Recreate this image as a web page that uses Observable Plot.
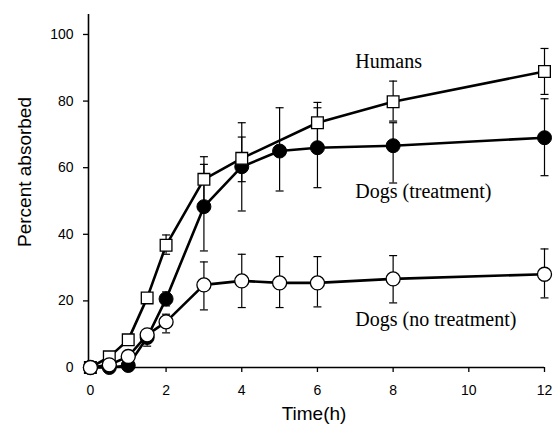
<!DOCTYPE html>
<html>
<head>
<meta charset="utf-8">
<script src="https://cdn.jsdelivr.net/npm/d3@7"></script>
<script src="https://cdn.jsdelivr.net/npm/@observablehq/plot@0.6"></script>
<style>
  html, body { margin: 0; padding: 0; background: #fff; }
</style>
</head>
<body>
<div id="chart"></div>
<script>
// ---- data ----
const xTicks = [0, 2, 4, 6, 8, 10, 12];
const yTicks = [0, 20, 40, 60, 80, 100];

const humanTimes = [0, 0.5, 1, 1.5, 2, 3, 4, 6, 8, 12];
const humanPct   = [0, 3.2, 8.3, 20.9, 36.7, 56.5, 62.8, 73.5, 79.8, 88.9];
const humanLo    = [null, null, null, 19.5, 34, 49.5, 55.8, 67.5, 74, 82];
const humanHi    = [null, null, null, 22, 39.8, 63.3, 69.2, 79.6, 86, 95.8];

const dogTrtTimes = [0, 0.5, 1, 1.5, 2, 3, 4, 5, 6, 8, 12];
const dogTrtPct   = [0, 0, 0.6, 9, 20.6, 48.3, 60.3, 65, 66, 66.6, 69];
const dogTrtLo    = [null, null, null, null, 18.5, 35, 47, 53, 54, 55.4, 57.6];
const dogTrtHi    = [null, null, null, null, 22.7, 61, 73.5, 78, 78, 73.5, 80.7];

const dogNoTimes = [0, 0.5, 1, 1.5, 2, 3, 4, 5, 6, 8, 12];
const dogNoPct   = [0, 0.8, 3.3, 9.8, 13.7, 24.8, 26, 25.4, 25.4, 26.6, 28];
const dogNoLo    = [null, null, null, 6.4, 10.4, 17.3, 18, 18, 18.2, 19.4, 20.9];
const dogNoHi    = [null, null, null, 11, 16, 31.7, 34, 33.3, 33.3, 33.6, 35.6];

const seriesLabels = ["Humans", "Dogs (treatment)", "Dogs (no treatment)"];
const labelX = [7, 7, 7];
const labelY = [89.8, 51, 12.5];

// ---- build tables ----
const mk = (times, pct, lo, hi) => times.map((t, i) => ({t, v: pct[i], lo: lo[i], hi: hi[i]}));
const humans = mk(humanTimes, humanPct, humanLo, humanHi);
const dogTrt = mk(dogTrtTimes, dogTrtPct, dogTrtLo, dogTrtHi);
const dogNo  = mk(dogNoTimes, dogNoPct, dogNoLo, dogNoHi);
const allErr = [...humans, ...dogTrt, ...dogNo].filter(d => d.lo != null);
const labels = seriesLabels.map((s, i) => ({s, x: labelX[i], y: labelY[i]}));

// horizontal cap symbol for error bars
const capSymbol = {
  draw(ctx, size) {
    const r = Math.sqrt(size / Math.PI);
    ctx.moveTo(-r, 0);
    ctx.lineTo(r, 0);
  }
};

const chart = Plot.plot({
  width: 553,
  height: 432,
  marginLeft: 88,
  marginRight: 9,
  marginTop: 14,
  marginBottom: 65,
  style: {fontFamily: "'Liberation Sans', Arial, sans-serif", fontSize: "14px", color: "black", background: "white"},
  x: {domain: [-0.05, 12]},
  y: {domain: [0, 106]},
  marks: [
    Plot.axisX({ticks: xTicks, tickSize: 5, tickPadding: 13, label: null, fontSize: 14, strokeWidth: 1.3}),
    Plot.axisY({ticks: yTicks, tickSize: 5, tickPadding: 10, label: null, fontSize: 14, strokeWidth: 1.3}),
    Plot.ruleY([0], {stroke: "black", strokeWidth: 1.6}),
    Plot.ruleX([-0.05], {stroke: "black", strokeWidth: 1.6}),
    // error bars
    Plot.ruleX(allErr, {x: "t", y1: "lo", y2: "hi", stroke: "black", strokeWidth: 1.2}),
    Plot.dot(allErr, {x: "t", y: "lo", symbol: capSymbol, r: 4, stroke: "black", strokeWidth: 1.2, fill: "none"}),
    Plot.dot(allErr, {x: "t", y: "hi", symbol: capSymbol, r: 4, stroke: "black", strokeWidth: 1.2, fill: "none"}),
    // lines
    Plot.line(humans, {x: "t", y: "v", stroke: "black", strokeWidth: 2.6}),
    Plot.line(dogTrt, {x: "t", y: "v", stroke: "black", strokeWidth: 2.6}),
    Plot.line(dogNo, {x: "t", y: "v", stroke: "black", strokeWidth: 2.6}),
    // markers
    Plot.dot(dogTrt, {x: "t", y: "v", r: 7, fill: "black", stroke: "black", strokeWidth: 1}),
    Plot.dot(humans, {x: "t", y: "v", symbol: "square", r: 6.6, fill: "white", stroke: "black", strokeWidth: 1.3}),
    Plot.dot(dogNo, {x: "t", y: "v", r: 7, fill: "white", stroke: "black", strokeWidth: 1.3}),
    // series labels
    Plot.text(labels, {x: "x", y: "y", text: "s", textAnchor: "start", lineAnchor: "bottom",
      fontFamily: "'Liberation Serif', 'Times New Roman', serif", fontSize: 20, fill: "black"}),
    // axis titles
    Plot.text(["Percent absorbed"], {frameAnchor: "left", dx: -58, dy: -19, rotate: -90, textAnchor: "middle",
      lineAnchor: "bottom", fontSize: 19, fill: "black"}),
    Plot.text(["Time(h)"], {frameAnchor: "bottom", dx: -2.5, dy: 52, textAnchor: "middle", lineAnchor: "bottom",
      fontSize: 19, fill: "black"})
  ]
});

document.getElementById("chart").appendChild(chart);
</script>
</body>
</html>
